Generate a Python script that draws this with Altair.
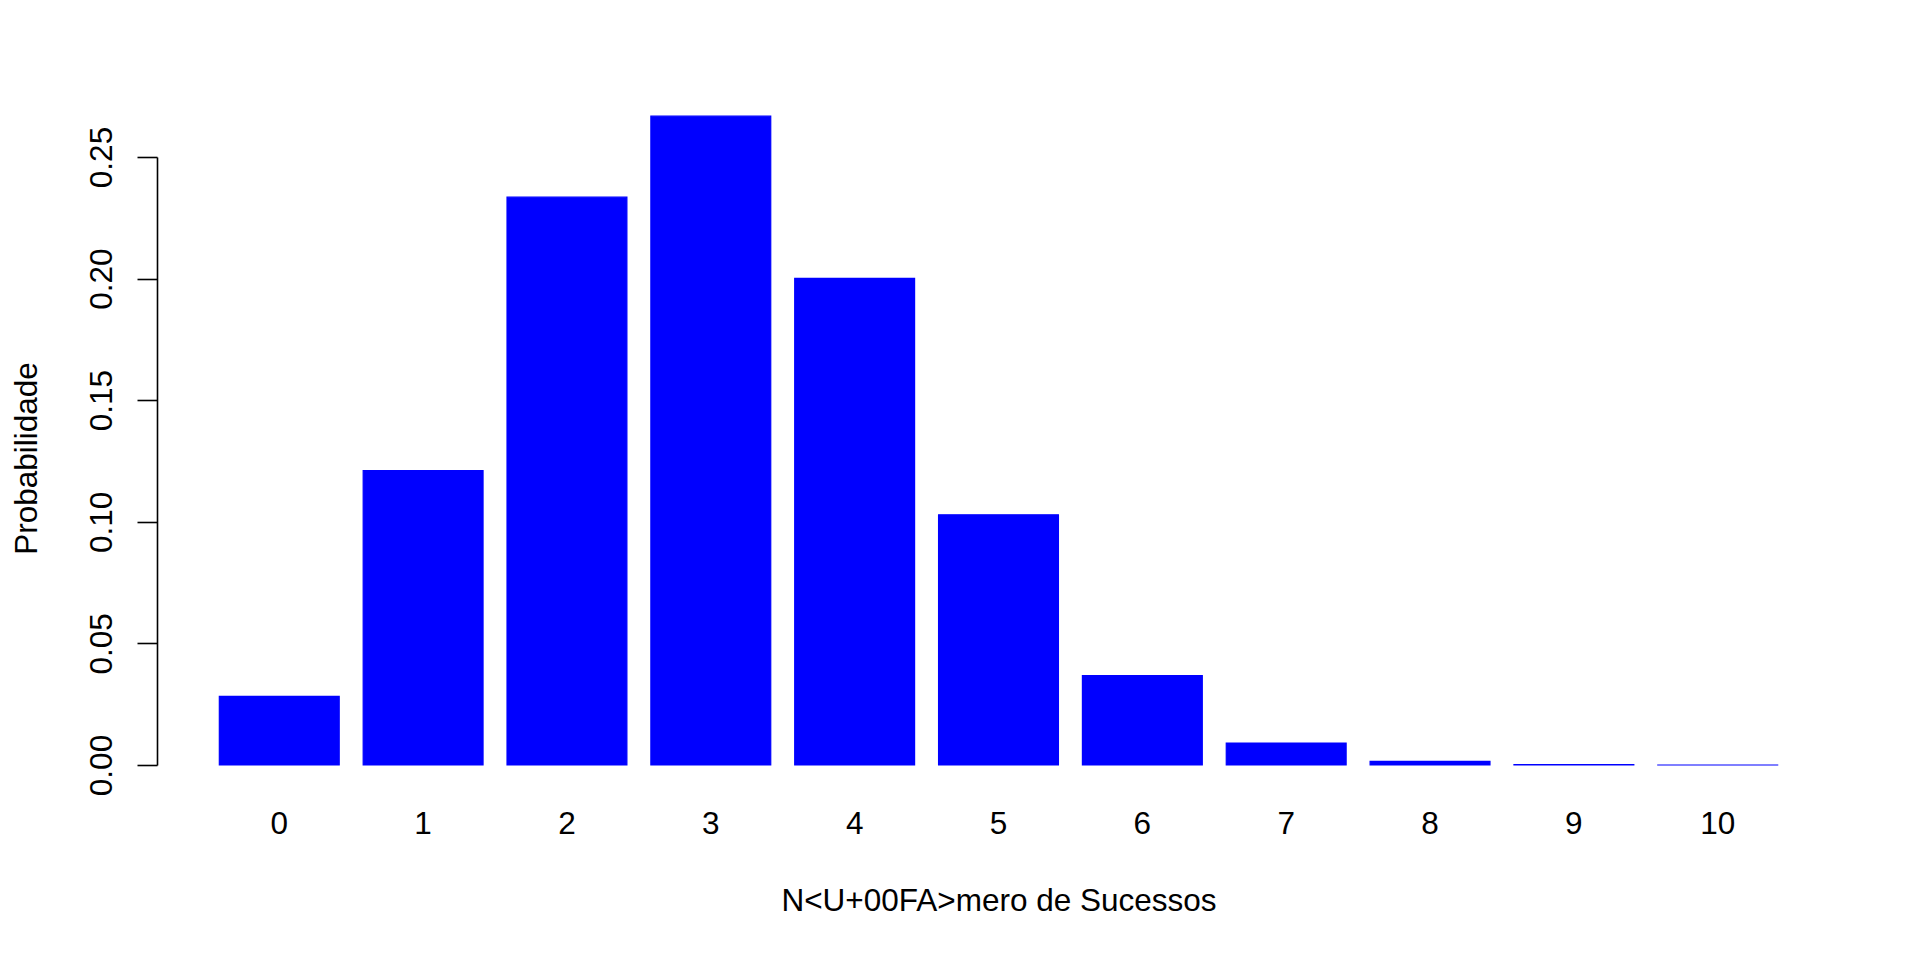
import altair as alt
import pandas as pd

sucessos = ["0", "1", "2", "3", "4", "5", "6", "7", "8", "9", "10"]
probabilidade = [0.0282, 0.1211, 0.2335, 0.2668, 0.2001, 0.1029, 0.0368, 0.0090, 0.0015, 0.00014, 0.000006]
y_ticks = [0.0, 0.05, 0.10, 0.15, 0.20, 0.25]

df = pd.DataFrame({"k": sucessos, "p": probabilidade})

FONT = "Liberation Sans"
FS = 31.5

chart = (
    alt.Chart(df)
    .mark_bar(color="#0000FF", stroke="#0000FF", strokeWidth=1.2)
    .encode(
        x=alt.X(
            "k:O",
            sort=sucessos,
            scale=alt.Scale(paddingInner=1 / 6, paddingOuter=0.4333),
            axis=alt.Axis(
                title="N<U+00FA>mero de Sucessos",
                labelAngle=0,
                domain=False,
                ticks=False,
                labelPadding=68,
                labelBaseline="alphabetic",
                titleBaseline="alphabetic",
                titleY=145,
            ),
        ),
        y=alt.Y(
            "p:Q",
            scale=alt.Scale(domain=[0, 0.25], nice=False, zero=False),
            axis=alt.Axis(
                title="Probabilidade",
                values=y_ticks,
                format=".2f",
                grid=False,
                tickSize=20,
                labelAngle=270,
                labelAlign="center",
                labelBaseline="alphabetic",
                labelPadding=26,
                titleAngle=270,
                titleBaseline="alphabetic",
                titleAlign="center",
                titleX=-121,
                titleY=301,
            ),
        ),
        y2=alt.datum(0),
    )
    .properties(
        width=1683,
        height=608,
        autosize=alt.AutoSizeParams(type="none"),
        padding={"left": 149, "top": 149, "right": 72, "bottom": 187},
        background="white",
    )
    .configure_view(stroke=None)
    .configure_axis(
        labelFont=FONT,
        titleFont=FONT,
        labelFontSize=FS,
        titleFontSize=FS,
        labelFontWeight="normal",
        titleFontWeight="normal",
        labelColor="black",
        titleColor="black",
        domainColor="black",
        tickColor="black",
        domainWidth=1.6,
        tickWidth=1.6,
        labelFlush=False,
        labelOverlap=False,
    )
)

chart.save("out.html", embed_options={"renderer": "svg", "actions": False})
